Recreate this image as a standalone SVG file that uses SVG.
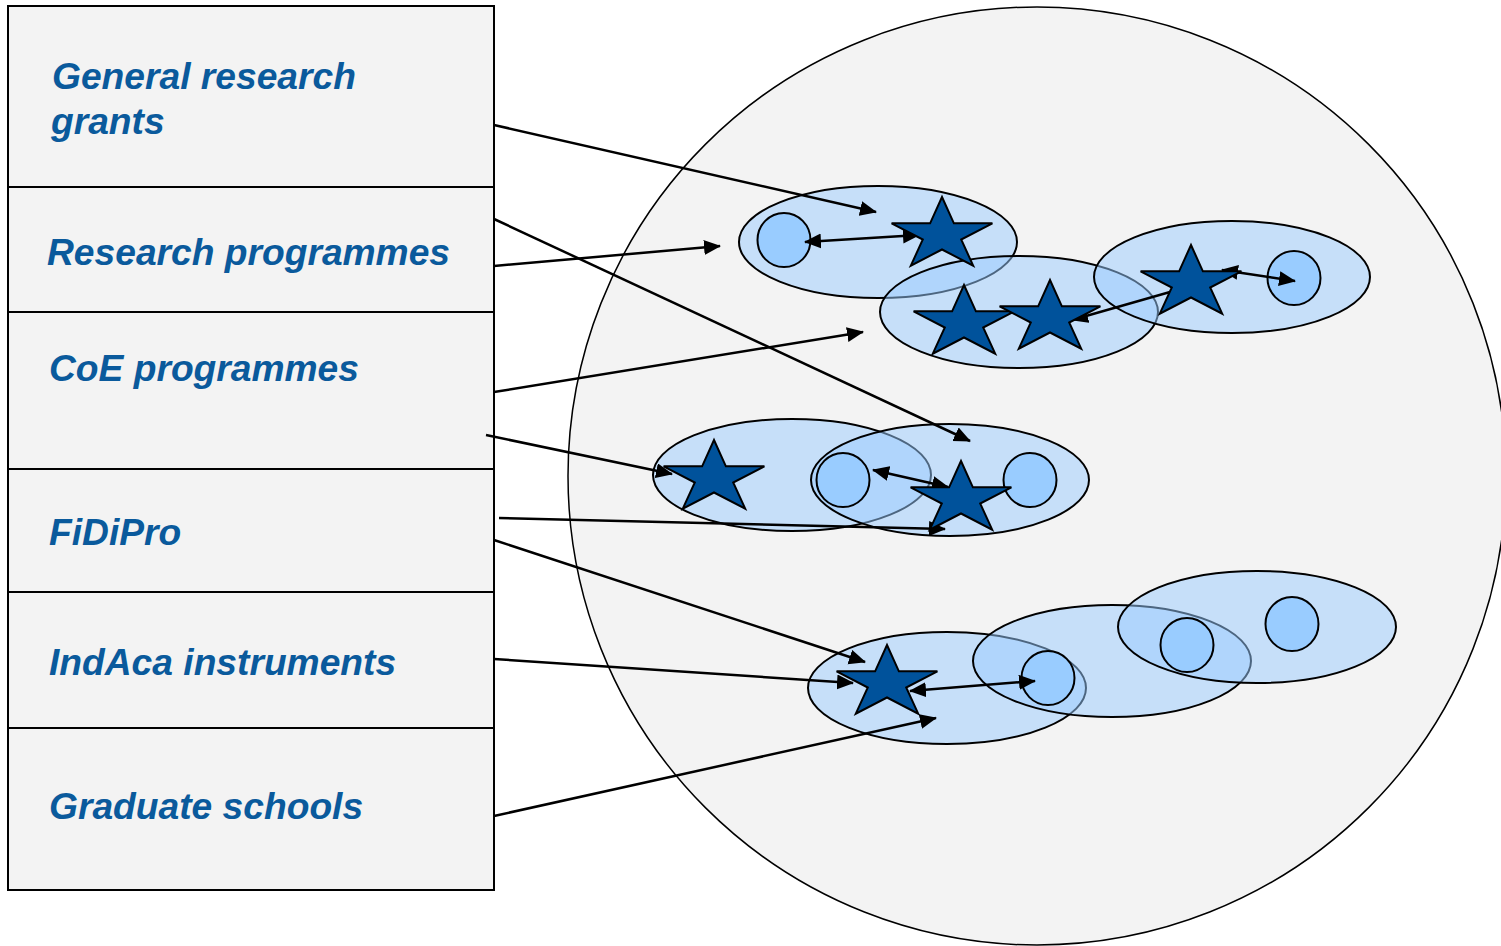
<svg xmlns="http://www.w3.org/2000/svg" width="1501" height="946" viewBox="0 0 1501 946">
<style>
.lbl{font-family:"Liberation Sans",Arial,sans-serif;font-size:37.2px;font-weight:bold;font-style:italic;fill:#0a5a9c}
.row{fill:#f3f3f3;stroke:#000;stroke-width:2}
.grp{fill:#99ccff;fill-opacity:0.5;stroke:#000;stroke-width:2}
.dot{fill:#99ccff;stroke:#000;stroke-width:2}
.star{fill:#00529b;stroke:#000;stroke-width:2;stroke-linejoin:miter}
.con{stroke:#000;stroke-width:2.5;fill:none}
</style>
<defs>
<marker id="ah" markerUnits="userSpaceOnUse" markerWidth="18" markerHeight="16" refX="16" refY="7.5" orient="auto-start-reverse"><path d="M0,0 L17,7.5 L0,15 Z" fill="#000"/></marker>
<path id="starShape" d="M0,-38 L11.9,-11.7 L50.4,-11.7 L19.2,4.5 L31.2,30.7 L0,14.5 L-31.2,30.7 L-19.2,4.5 L-50.4,-11.7 L-11.9,-11.7 Z"/>
</defs>
<rect width="1501" height="946" fill="#fff"/>
<g id="system">
<circle cx="1037" cy="476" r="469" fill="#f3f3f3" stroke="#000" stroke-width="1.5"/>
</g>
<g id="instruments">
<g id="row-grg"><rect class="row" x="8" y="6" width="486" height="181"/><text class="lbl" x="52" y="89">General research</text><text class="lbl" x="51" y="134">grants</text></g>
<g id="row-rp"><rect class="row" x="8" y="187" width="486" height="125"/><text class="lbl" x="47" y="265">Research programmes</text></g>
<g id="row-coe"><rect class="row" x="8" y="312" width="486" height="157"/><text class="lbl" x="49" y="381">CoE programmes</text></g>
<g id="row-fidipro"><rect class="row" x="8" y="469" width="486" height="123"/><text class="lbl" x="49" y="545">FiDiPro</text></g>
<g id="row-indaca"><rect class="row" x="8" y="592" width="486" height="136"/><text class="lbl" x="49" y="675">IndAca instruments</text></g>
<g id="row-grad"><rect class="row" x="8" y="728" width="486" height="162"/><text class="lbl" x="49" y="819">Graduate schools</text></g>
</g>
<g id="clusters">
<ellipse id="grpA" class="grp" cx="878" cy="242" rx="139" ry="56"/>
<ellipse id="grpB" class="grp" cx="1019" cy="312" rx="139" ry="56"/>
<ellipse id="grpC" class="grp" cx="1232" cy="277" rx="138" ry="56"/>
<ellipse id="grpD" class="grp" cx="792" cy="475" rx="139" ry="56"/>
<ellipse id="grpE" class="grp" cx="950" cy="480" rx="139" ry="56"/>
<ellipse id="grpF" class="grp" cx="947" cy="688" rx="139" ry="56"/>
<ellipse id="grpG" class="grp" cx="1112" cy="661" rx="139" ry="56"/>
<ellipse id="grpH" class="grp" cx="1257" cy="627" rx="139" ry="56"/>
</g>
<g id="units">
<ellipse id="dot1" class="dot" cx="784" cy="240" rx="26.5" ry="27"/>
<ellipse id="dot2" class="dot" cx="1294" cy="278" rx="26.5" ry="27"/>
<ellipse id="dot3" class="dot" cx="843" cy="480" rx="26.5" ry="27"/>
<ellipse id="dot4" class="dot" cx="1030" cy="480" rx="26.5" ry="27"/>
<ellipse id="dot5" class="dot" cx="1048" cy="678" rx="26.5" ry="27"/>
<ellipse id="dot6" class="dot" cx="1187" cy="645" rx="26.5" ry="27"/>
<ellipse id="dot7" class="dot" cx="1292" cy="624" rx="26.5" ry="27"/>
</g>
<g id="connectors" class="con">
<line x1="494" y1="125" x2="876" y2="212" marker-end="url(#ah)"/>
<line x1="494" y1="219" x2="970" y2="441" marker-end="url(#ah)"/>
<line x1="494" y1="266" x2="720" y2="246" marker-end="url(#ah)"/>
<line x1="494" y1="392" x2="863" y2="332" marker-end="url(#ah)"/>
<line x1="486" y1="435" x2="672" y2="474" marker-end="url(#ah)"/>
<line x1="499" y1="518" x2="945" y2="529" marker-end="url(#ah)"/>
<line x1="494" y1="540" x2="865" y2="662" marker-end="url(#ah)"/>
<line x1="494" y1="659" x2="853" y2="683" marker-end="url(#ah)"/>
<line x1="494" y1="816" x2="936" y2="718" marker-end="url(#ah)"/>
<line x1="805" y1="242" x2="919" y2="235" marker-start="url(#ah)" marker-end="url(#ah)"/>
<line x1="1170" y1="292" x2="1072" y2="320" marker-end="url(#ah)"/>
<line x1="1222" y1="270" x2="1295" y2="281" marker-start="url(#ah)" marker-end="url(#ah)"/>
<line x1="948" y1="487" x2="873" y2="470" marker-start="url(#ah)" marker-end="url(#ah)"/>
<line x1="910" y1="691" x2="1035" y2="681" marker-start="url(#ah)" marker-end="url(#ah)"/>
</g>
<g id="stars">
<g id="star1"><use href="#starShape" class="star" transform="translate(942,235)"/></g>
<g id="star2"><use href="#starShape" class="star" transform="translate(964,323)"/></g>
<g id="star3"><use href="#starShape" class="star" transform="translate(1050,318)"/></g>
<g id="star4"><use href="#starShape" class="star" transform="translate(1191,283)"/></g>
<g id="star5"><use href="#starShape" class="star" transform="translate(714,478)"/></g>
<g id="star6"><use href="#starShape" class="star" transform="translate(961,499)"/></g>
<g id="star7"><use href="#starShape" class="star" transform="translate(887,683)"/></g>
</g>
</svg>
